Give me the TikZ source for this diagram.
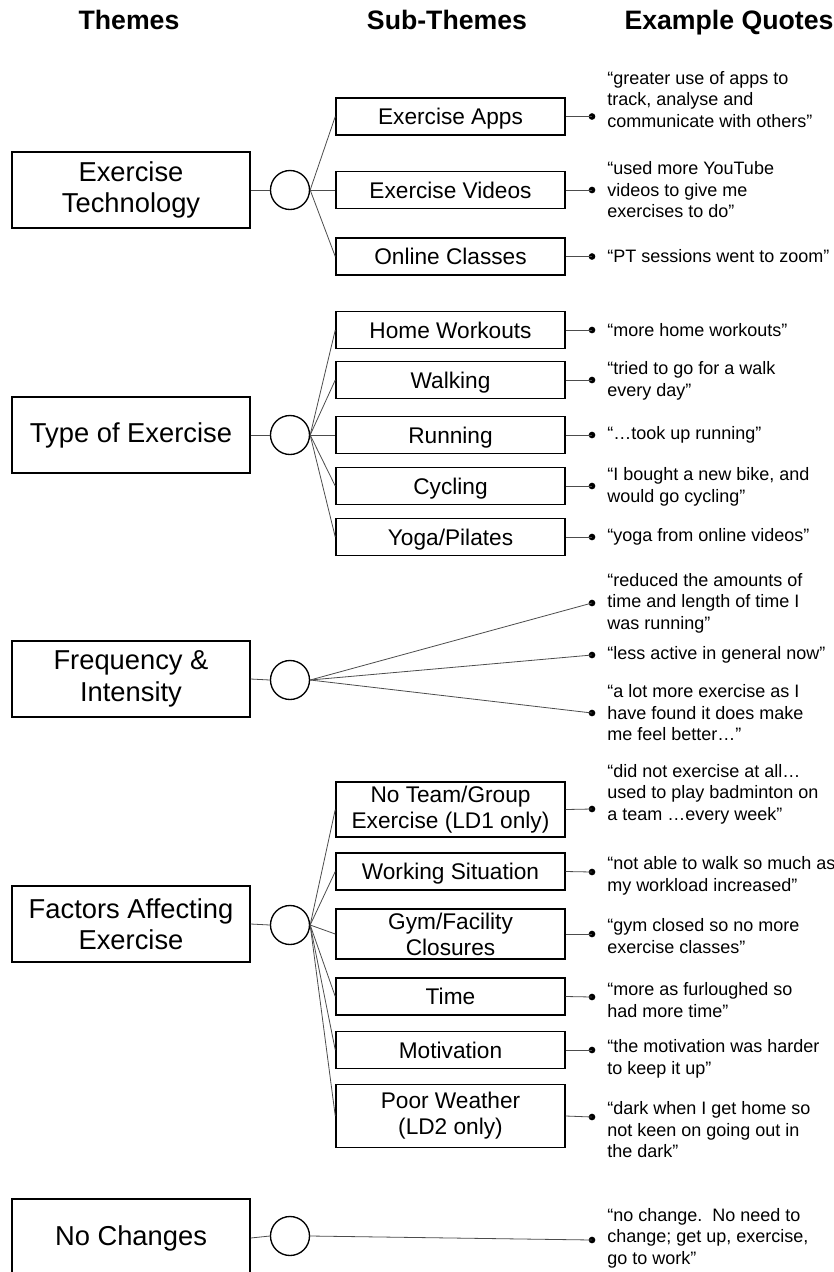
\documentclass[tikz,border=0pt]{standalone}
\usepackage{fontspec}
\setmainfont{Liberation Sans}
\begin{document}
\begin{tikzpicture}[x=0.75pt,y=-0.75pt,
  hdr/.style={font=\bfseries\fontsize{20}{24}\selectfont, anchor=base, inner sep=0},
  theme/.style={draw, fill=white, line width=1.1pt, minimum width=178.5pt, minimum height=57pt, align=center, inner sep=0, font=\fontsize{20.5}{23.5}\selectfont},
  sub/.style={draw, fill=white, line width=1.1pt, minimum width=171.75pt, minimum height=27.75pt, align=center, inner sep=0, font=\fontsize{17}{19.5}\selectfont},
  sub1/.style={sub, text height=12.2pt, text depth=0pt},
  hub/.style={circle, draw, fill=white, line width=1pt, minimum size=29.25pt, inner sep=0},
  bdot/.style={circle, fill=black, minimum size=5pt, inner sep=0},
  quote/.style={anchor=west, align=left, inner sep=0, font=\fontsize{13.5}{16.1}\selectfont},
  link/.style={draw=black!70, line width=0.6pt}]
\path[use as bounding box, clip] (0,0) rectangle (834,1272);

% headers
\node[hdr] (h1) at (129,29) {Themes};
\node[hdr] (h2) at (447,29) {Sub-Themes};
\node[hdr] (h3) at (729,29) {Example Quotes};

% ---------------- Group 1
\node[theme] (t1) at (131,190) {Exercise\\Technology};
\node[hub] (c1) at (290,190) {};
\node[sub1] (s11) at (450.5,116.5) {Exercise Apps};
\node[sub1] (s12) at (450.5,190) {Exercise Videos};
\node[sub1] (s13) at (450.5,256.5) {Online Classes};
\node[bdot] (d11) at (592,116.5) {};
\node[bdot] (d12) at (592,190) {};
\node[bdot] (d13) at (592,256.5) {};
\node[quote] (q11) at (607,99.5) {“greater use of apps to\\track, analyse and\\communicate with others”};
\node[quote] (q12) at (607,190) {“used more YouTube\\videos to give me\\exercises to do”};
\node[quote] (q13) at (607,256.5) {“PT sessions went to zoom”};
\draw[link] (t1.east) -- (c1.west);
\foreach \i in {1,2,3}{
  \draw[link] (c1.east) -- (s1\i.west);
  \draw[link] (s1\i.east) -- (d1\i.center);
}

% ---------------- Group 2
\node[theme] (t2) at (131,435) {Type of Exercise};
\node[hub] (c2) at (290,435) {};
\node[sub1] (s21) at (450.5,330) {Home Workouts};
\node[sub1] (s22) at (450.5,380) {Walking};
\node[sub1] (s23) at (450.5,435) {Running};
\node[sub1] (s24) at (450.5,486) {Cycling};
\node[sub1] (s25) at (450.5,537) {Yoga/Pilates};
\node[bdot] (d21) at (592,330) {};
\node[bdot] (d22) at (592,380) {};
\node[bdot] (d23) at (592,435) {};
\node[bdot] (d24) at (592,486) {};
\node[bdot] (d25) at (592,537) {};
\node[quote] (q21) at (607,330) {“more home workouts”};
\node[quote] (q22) at (607,381) {“tried to go for a walk\\every day”};
\node[quote] (q23) at (607,435) {“…took up running”};
\node[quote] (q24) at (607,487) {“I bought a new bike, and\\would go cycling”};
\node[quote] (q25) at (607,537) {“yoga from online videos”};
\draw[link] (t2.east) -- (c2.west);
\foreach \i in {1,...,5}{
  \draw[link] (c2.east) -- (s2\i.west);
  \draw[link] (s2\i.east) -- (d2\i.center);
}

% ---------------- Group 3
\node[theme] (t3) at (131,679) {Frequency \&\\Intensity};
\node[hub] (c3) at (290,680) {};
\node[bdot] (d31) at (592,603) {};
\node[bdot] (d32) at (592,655) {};
\node[bdot] (d33) at (592,713) {};
\node[quote] (q31) at (607,603) {“reduced the amounts of\\time and length of time I\\was running”};
\node[quote] (q32) at (607,655) {“less active in general now”};
\node[quote] (q33) at (607,713) {“a lot more exercise as I\\have found it does make\\me feel better…”};
\draw[link] (t3.east) -- (c3.west);
\foreach \i in {1,2,3}{
  \draw[link] (c3.east) -- (d3\i.center);
}

% ---------------- Group 4
\node[theme] (t4) at (131,924) {Factors Affecting\\Exercise};
\node[hub] (c4) at (290,925) {};
\node[sub, minimum height=41.25pt] (s41) at (450.5,809.5) {No Team/Group\\Exercise (LD1 only)};
\node[sub1] (s42) at (450.5,871.5) {Working Situation};
\node[sub, minimum height=37.5pt] (s43) at (450.5,934) {Gym/Facility\\Closures};
\node[sub1] (s44) at (450.5,996.5) {Time};
\node[sub1] (s45) at (450.5,1050) {Motivation};
\node[sub, minimum height=47.25pt] (s46) at (450.5,1116) {Poor Weather\\(LD2 only)};
\node[bdot] (d41) at (592,809) {};
\node[bdot] (d42) at (592,872) {};
\node[bdot] (d43) at (592,934) {};
\node[bdot] (d44) at (592,997) {};
\node[bdot] (d45) at (592,1050) {};
\node[bdot] (d46) at (592,1117) {};
\node[quote] (q41) at (607,794) {“did not exercise at all…\\used to play badminton on\\a team …every week”};
\node[quote] (q42) at (607,876) {“not able to walk so much as\\my workload increased”};
\node[quote] (q43) at (607,936) {“gym closed so no more\\exercise classes”};
\node[quote] (q44) at (607,1000) {“more as furloughed so\\had more time”};
\node[quote] (q45) at (607,1059) {“the motivation was harder\\to keep it up”};
\node[quote] (q46) at (607,1130) {“dark when I get home so\\not keen on going out in\\the dark”};
\draw[link] (t4.east) -- (c4.west);
\foreach \i in {1,...,6}{
  \draw[link] (c4.east) -- (s4\i.west);
  \draw[link] (s4\i.east) -- (d4\i.center);
}

% ---------------- Group 5
\node[theme, minimum height=58.5pt] (t5) at (131,1238) {No Changes};
\node[hub] (c5) at (290,1236) {};
\node[bdot] (d51) at (592,1240) {};
\node[quote] (q51) at (607,1238) {“no change.\ \ No need to\\change; get up, exercise,\\go to work”};
\draw[link] (t5.east) -- (c5.west);
\draw[link] (c5.east) -- (d51.center);
\end{tikzpicture}
\end{document}
